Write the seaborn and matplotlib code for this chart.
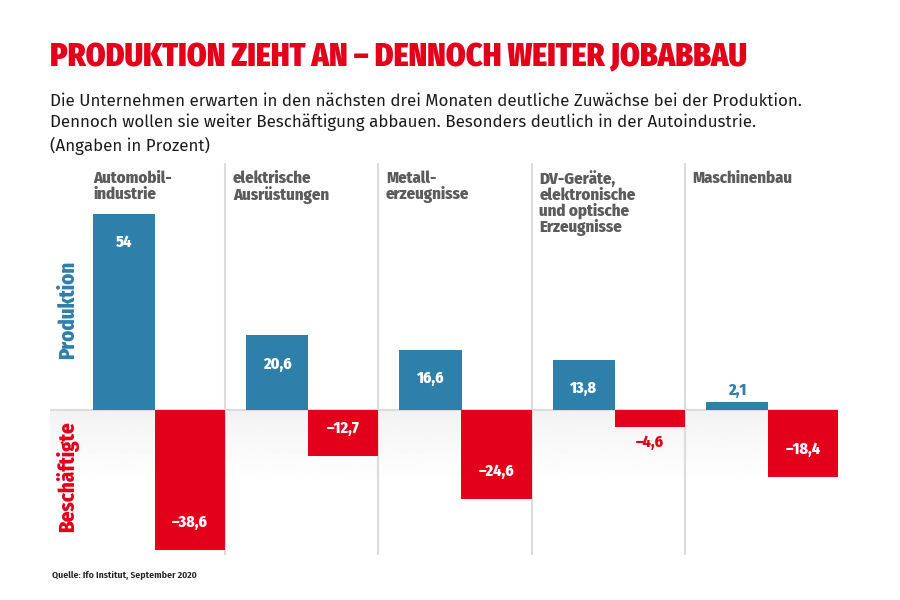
import numpy as np
import pandas as pd
import matplotlib
matplotlib.use("Agg")
import matplotlib.pyplot as plt
import seaborn as sns

# Daten (Angaben in Prozent)
branchen = ["Automobil-\nindustrie", "elektrische\nAusrüstungen", "Metall-\nerzeugnisse",
            "DV-Geräte,\nelektronische\nund optische\nErzeugnisse", "Maschinenbau"]
produktion = [54, 20.6, 16.6, 13.8, 2.1]
beschaeftigte = [-38.6, -12.7, -24.6, -4.6, -18.4]

BLAU = "#2f7fab"
ROT = "#e2001a"
GRAU = "#5c5c5c"
LINIE = "#dcdcdc"

sns.set_theme(style="white")
plt.rcParams["font.family"] = ["Fira Sans", "Open Sans", "DejaVu Sans"]
COND = ["Fira Sans Condensed", "Open Sans Condensed", "DejaVu Sans"]


def fmt(v):
    s = f"{abs(v):g}".replace(".", ",")
    return ("\u2013" + s) if v < 0 else s


idx = np.arange(len(branchen))
df_p = pd.DataFrame({"pos": idx + 0.34, "wert": produktion})
df_b = pd.DataFrame({"pos": idx + 0.771, "wert": beschaeftigte})

fig = plt.figure(figsize=(9, 6), dpi=100)
ax = fig.add_axes([50 / 900, 45 / 600, 788 / 900, 392 / 600])

# Verlauf unter der Nulllinie
grad = np.linspace(0.95, 1.0, 100).reshape(-1, 1)
ax.imshow(grad, cmap="gray", vmin=0, vmax=1, aspect="auto",
          extent=[-0.144, 5.0, -20, 0], zorder=0)

sns.barplot(data=df_p, x="pos", y="wert", native_scale=True, width=0.405,
            color=BLAU, saturation=1, errorbar=None, orient="x", ax=ax, zorder=3,
            linewidth=0)
sns.barplot(data=df_b, x="pos", y="wert", native_scale=True, width=0.458,
            color=ROT, saturation=1, errorbar=None, orient="x", ax=ax, zorder=3,
            linewidth=0)

ax.set_xlim(-0.144, 5.0)
ax.set_ylim(-40, 68)
ax.vlines(idx[1:], -40, 68, color=LINIE, lw=1.5, zorder=1)
ax.axhline(0, color=LINIE, lw=1.5, zorder=2)
ax.set_axis_off()

for i, (p, b) in enumerate(zip(produktion, beschaeftigte)):
    if p > 6:
        ax.text(i + 0.34, p - 8, fmt(p), color="white", ha="center", va="center",
                fontsize=11.5, fontweight="heavy", family=COND, zorder=4)
    else:
        ax.text(i + 0.34, p + 3.3, fmt(p), color=BLAU, ha="center", va="center",
                fontsize=11.5, fontweight="heavy", family=COND, zorder=4)
    if b < -8:
        ax.text(i + 0.771, b + 7.5, fmt(b), color="white", ha="center", va="center",
                fontsize=11.5, fontweight="heavy", family=COND, zorder=4)
    else:
        ax.text(i + 0.771, b - 4.4, fmt(b), color=ROT, ha="center", va="center",
                fontsize=11.5, fontweight="heavy", family=COND, zorder=4)

# Kategorien oben
for i, name in enumerate(branchen):
    x0 = i + 0.137 if i == 0 else i + 0.05
    ax.text(x0, 66.0, name, ha="left", va="top", color=GRAU, fontsize=12,
            fontweight="heavy", family=COND, linespacing=1.0)

fig.text(68 / 900, 1 - 310 / 600, "Produktion", rotation=90, ha="center", va="center",
         color=BLAU, fontsize=15, fontweight="heavy", family=COND)
fig.text(68 / 900, 1 - 477 / 600, "Beschäftigte", rotation=90, ha="center", va="center",
         color=ROT, fontsize=15, fontweight="heavy", family=COND)

fig.text(50 / 900, 1 - 58 / 600, "PRODUKTION ZIEHT AN \u2013 DENNOCH WEITER JOBABBAU",
         ha="left", va="center", color=ROT, fontsize=22.7, fontweight="black", family=COND)
fig.text(50 / 900, 1 - 93 / 600,
         "Die Unternehmen erwarten in den nächsten drei Monaten deutliche Zuwächse bei der Produktion.\n"
         "Dennoch wollen sie weiter Beschäftigung abbauen. Besonders deutlich in der Autoindustrie.\n"
         "(Angaben in Prozent)",
         ha="left", va="top", color="#1a1a1a", fontsize=12.2, linespacing=1.36)
fig.text(52 / 900, 1 - 576 / 600, "Quelle: Ifo Institut, September 2020", ha="left",
         va="center", color="#222222", fontsize=7, fontweight="semibold", family=COND)

fig.savefig("out.png", dpi=100)
